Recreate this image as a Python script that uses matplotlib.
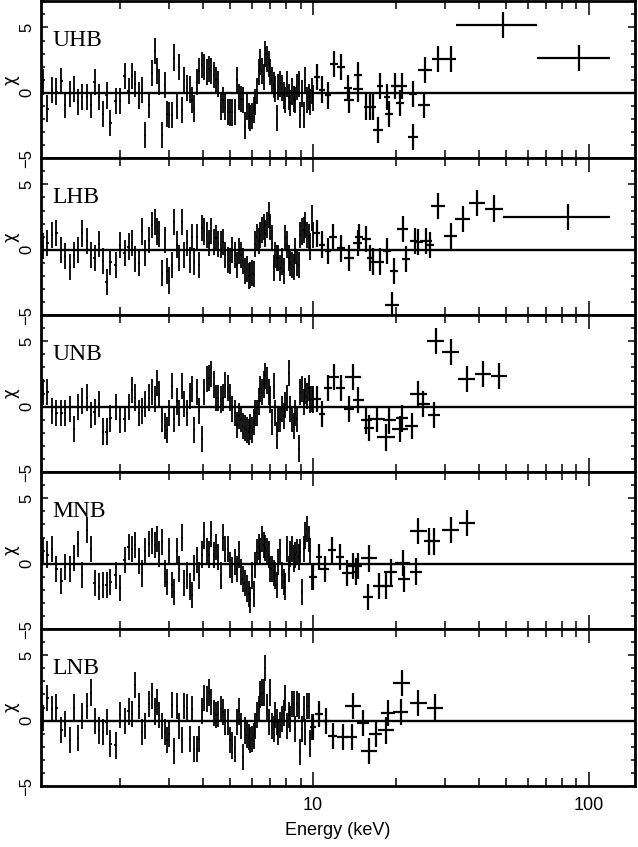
import numpy as np
import matplotlib
matplotlib.use("Agg")
import matplotlib.pyplot as plt
from matplotlib.ticker import FixedLocator, NullFormatter, MultipleLocator, FuncFormatter

plt.rcParams['font.family'] = ['Liberation Sans Narrow', 'Liberation Sans', 'DejaVu Sans']

# ---- data: chi residuals (yerr = 1 by definition) ----
panel_names = ["UHB", "LHB", "UNB", "MNB", "LNB"]

# shared low-energy channel grid (keV)
low_energy = [
    1.045, 1.084, 1.13, 1.17, 1.22, 1.26, 1.31, 1.355, 1.40, 1.45,
    1.51, 1.56, 1.61, 1.67, 1.73, 1.78, 1.84, 1.92, 1.99, 2.07,
    2.14, 2.21, 2.26, 2.33, 2.39, 2.46, 2.53, 2.60, 2.66, 2.72,
    2.77, 2.84, 2.89, 2.95, 3.01, 3.08, 3.13, 3.21, 3.27, 3.34,
    3.41, 3.48, 3.56, 3.63, 3.71, 3.79, 3.86, 3.95, 4.03, 4.11,
    4.19, 4.27, 4.36, 4.44, 4.53, 4.62, 4.71, 4.80, 4.89, 4.99,
    5.09, 5.19, 5.29, 5.38, 5.47, 5.56, 5.65, 5.75, 5.83, 5.91,
    6.00, 6.08, 6.16, 6.25, 6.34, 6.43, 6.52, 6.61, 6.70, 6.79,
    6.89, 6.98, 7.08, 7.18, 7.28, 7.38, 7.48, 7.59, 7.70, 7.81,
    7.92, 8.03, 8.14, 8.26, 8.37, 8.49, 8.61, 8.73, 8.85, 8.97,
    9.10, 9.23, 9.35, 9.48, 9.62, 9.75, 9.89, 10.0,
]

uhb_low = [
    0.8, -1.2, 0.2, 0.1, 0.9, -0.9, -0.1, 0.3, -0.7, -0.3,
    -0.3, -0.9, 0.8, -0.3, -1.6, -0.2, -2.3, -0.6, -0.6, 1.3,
    0.15, 1.3, 0.7, -0.2, 0.2, -3.2, -0.9, 1.5, 3.2, 1.7,
    0.8, -3.2, 0.6, -1.6, -1.7, -1.7, 2.7, -1.0, 2.0, -1.3,
    1.0, 0.4, 0.25, -0.55, -1.2, 0.8, 1.7, 2.1, 2.0, 1.6,
    1.85, 1.7, 1.35, 0.95, 0.7, -1.05, -0.55, -1.05, -1.45, -1.5,
    -1.5, -1.45, 0.95, -0.3, -0.45, -0.55, -2.5, -1.05, -1.8, -1.95,
    -1.8, -1.3, -0.7, 0.15, 1.6, 2.35, 1.7, 1.2, 3.0, 2.6,
    2.2, 1.6, 0.95, 0.6, 0.3, -1.9, 0.45, 0.7, 0.4, -0.2,
    -0.55, 0.7, -0.3, -0.8, 0.1, -0.45, -0.55, 0.45, 0.7, -1.7,
    -0.05, -1.7, 0.95, -0.55, -0.3, -0.7, 0.15, -0.4,
]
lhb_low = [
    0.3, 0.5, 1.1, 1.3, 0.0, -0.5, -1.3, -0.4, 0.0, 1.25,
    0.7, -0.4, -0.6, 0.45, -0.85, -2.45, -0.95, -1.15, 0.35, -0.25,
    0.25, 0.5, -0.7, -1.0, 1.4, -0.25, 0.75, 1.9, 2.15, 1.4,
    1.2, -1.8, 0.75, -1.65, -2.35, -1.15, 2.15, 0.4, -0.6, 2.15,
    -0.4, 0.5, -0.75, 1.0, -0.9, 1.0, -1.15, 1.65, 1.4, 1.15,
    0.5, 1.45, 0.6, 0.9, 0.45, 0.4, 0.6, -0.4, -0.75, -0.85,
    0.0, -0.4, -1.15, -0.1, -0.4, -0.85, -1.65, -1.5, -2.0, -1.9,
    -1.8, -1.85, 0.45, 1.0, 0.7, 1.15, 1.5, 1.75, 1.25, 1.9,
    2.65, 1.75, 0.9, -1.4, -0.4, -0.6, -0.6, -1.4, -0.9, -1.65,
    0.9, 0.4, -0.6, -1.0, -1.15, -1.3, -0.1, -1.0, -1.15, 1.15,
    1.4, 1.5, 1.9, 1.15, 1.0, 0.25, 2.4, 1.15,
]
unb_low = [
    1.1, 1.1, -0.3, -0.45, -0.45, -0.45, -0.2, -1.7, 0.0, 0.45,
    0.7, -0.65, -0.4, 0.2, -1.9, -1.9, -0.9, -0.05, -1.0, -0.95,
    -0.05, 1.3, 0.7, -0.45, -0.3, 0.2, 0.7, 1.15, 0.6, 1.8,
    0.95, -0.95, -1.45, -1.8, -0.45, 1.6, -0.95, 0.4, -0.45, 1.6,
    0.2, -0.45, 0.85, 1.35, -1.8, 1.1, -0.3, -2.45, 1.1, 2.1,
    2.2, 2.5, 1.7, 0.65, 0.65, 0.55, 0.7, 1.65, 1.45, 0.7,
    -0.2, -0.45, -1.4, -0.7, -0.95, -1.45, -1.65, -1.8, -1.95, -1.55,
    -1.75, -1.2, -0.45, -0.45, 0.4, 1.35, 1.1, 1.7, 2.35, 2.0,
    1.1, 0.55, -1.2, 1.6, -0.45, -2.2, -0.95, -0.95, -0.2, -0.7,
    0.1, 0.65, 2.6, -0.2, -0.95, -1.45, -0.45, -0.95, -3.2, 1.1,
    1.35, 0.35, 1.2, 0.85, 1.45, 0.55, 0.6, 0.55,
]
mnb_low = [
    1.0, 0.7, 1.15, -0.4, -1.35, -0.25, -0.4, 0.45, 1.5, -0.85,
    2.55, 1.15, -1.5, -1.75, -1.65, -1.6, -1.4, -0.9, -1.85, 0.25,
    1.25, 1.15, 1.45, 0.2, -0.75, 1.0, 1.5, 1.75, 1.4, 1.9,
    0.75, 1.65, -0.75, -1.4, 1.0, -1.65, -2.15, 1.0, -0.4, 2.0,
    -1.5, -0.9, -1.75, -2.4, -0.35, 0.25, -0.9, 0.7, 2.15, 1.0,
    0.7, 2.3, 0.65, 1.25, 0.5, -0.9, 2.0, 1.15, 1.15, -0.1,
    -0.5, 0.1, -0.4, 0.7, -0.65, -1.15, -1.5, -1.9, -2.3, -2.8,
    -0.9, -2.3, -0.1, 0.9, 1.25, 0.95, 1.9, 1.45, 1.2, 1.0,
    0.7, -0.4, -0.4, -0.7, -0.9, -1.65, 0.1, 0.9, -0.9, -1.4,
    -1.75, 1.15, -0.4, 0.75, 1.15, 0.4, 0.65, 0.9, 0.5, 0.9,
    -2.15, 1.15, 2.15, 2.65, 1.9, 1.0, -1.0, -1.0,
]
lnb_low = [
    0.2, 1.75, 0.9, 1.0, -0.7, -0.25, -1.5, 1.0, -1.35, 0.35,
    1.15, 2.15, 0.0, -0.75, -0.9, -0.1, -1.75, -1.9, 0.4, 0.0,
    0.7, 0.5, 2.7, 1.15, -0.9, -0.4, 1.25, 1.9, 0.7, 1.45,
    0.45, -0.4, -0.9, -1.5, -1.0, 1.2, -2.3, 1.15, -0.4, -1.5,
    1.15, 1.0, -1.4, 0.9, -2.15, -2.2, -1.4, 0.75, 1.7, 1.65,
    2.15, 1.4, 0.6, 0.4, 0.5, 0.9, 0.65, -0.1, -0.1, -1.5,
    -1.9, -2.15, -0.1, 0.7, -0.4, -2.8, -0.75, -1.1, -1.25, -1.5,
    -1.4, -1.15, -0.4, 0.45, 0.9, 2.0, 2.15, 2.15, 4.05, 1.0,
    -0.1, 2.15, -0.4, -0.65, 0.4, -0.1, -0.9, -0.35, 0.1, 0.6,
    1.75, -0.4, 0.4, 0.1, 1.25, 1.25, -0.65, 1.25, 1.15, -2.4,
    -0.65, 0.9, -0.9, 1.15, 1.15, -1.75, -0.5, -0.5,
]

# binned points above 10 keV: centre (keV), half width (keV), residual
uhb_hi_e = [10.3, 10.8, 11.3, 11.9, 12.6, 13.4, 13.5, 14.5, 14.6, 15.6, 16.1, 16.5, 17.2,
            17.5, 18.6, 18.9, 19.8, 20.7, 21.0, 23.0, 23.1, 25.2, 25.5, 28.4, 31.5]
uhb_hi_w = [0.26, 0.27, 0.28, 0.40, 0.42, 0.45, 0.57, 0.49, 0.61, 0.27, 0.27, 0.41, 0.72,
            0.44, 0.47, 0.64, 0.67, 0.70, 0.88, 0.97, 0.79, 1.26, 1.48, 1.53, 1.58]
uhb_hi_r = [1.2, 0.25, -0.2, 2.2, 2.0, 0.4, -0.55, 1.35, 0.3, -1.1, -1.1, -1.1, -2.85,
            0.5, -0.3, -1.6, 0.5, -0.75, 0.5, -3.35, -0.1, -0.95, 1.75, 2.6, 2.6]

lhb_hi_e = [10.3, 10.8, 11.3, 11.8, 12.6, 13.5, 14.5, 14.7, 15.6, 16.1, 16.5, 17.5, 18.5,
            19.3, 19.7, 21.1, 21.7, 23.4, 24.1, 25.7, 26.5, 28.4, 31.5, 34.9, 39.4]
lhb_hi_w = [0.28, 0.27, 0.28, 0.36, 0.42, 0.53, 0.57, 0.49, 0.62, 0.40, 0.41, 0.58, 0.62,
            1.12, 0.66, 1.02, 0.73, 0.90, 0.82, 1.29, 0.89, 1.65, 1.65, 2.27, 2.55]
lhb_hi_r = [1.25, 0.4, -0.1, 1.0, 0.1, -0.6, 0.5, 1.0, 0.85, -0.6, -0.9, -0.9, -0.1,
            -4.2, -1.6, 1.6, -0.7, 0.7, 0.6, 0.7, 0.35, 3.35, 1.05, 2.35, 3.6]

unb_hi_e = [10.3, 10.8, 11.3, 11.9, 12.6, 13.5, 14.0, 14.6, 15.6, 15.9, 17.1, 18.4, 18.9,
            20.7, 21.0, 22.8, 24.1, 25.1, 27.5, 27.9, 31.6, 36.0, 41.4, 47.3]
unb_hi_w = [0.34, 0.27, 0.36, 0.47, 0.49, 0.54, 0.97, 0.65, 0.75, 0.66, 1.07, 1.35, 1.05,
            1.35, 1.05, 1.18, 1.67, 1.33, 1.43, 1.95, 2.2, 2.5, 2.9, 3.3]
unb_hi_r = [0.6, -0.55, 1.45, 2.3, 1.45, -0.2, 2.25, 0.5, -1.05, -1.65, -0.95, -2.35, -1.05,
            -1.7, -0.9, -1.5, 0.95, 0.2, -0.65, 5.0, 4.2, 2.1, 2.5, 2.35]

mnb_hi_e = [10.0, 10.5, 11.0, 11.7, 12.5, 13.3, 14.0, 14.3, 14.5, 15.8, 16.0, 17.4, 18.4,
            19.1, 21.1, 21.4, 23.6, 24.1, 26.3, 27.5, 31.6, 36.2]
mnb_hi_w = [0.31, 0.26, 0.40, 0.42, 0.44, 0.55, 0.58, 0.36, 0.50, 0.70, 1.11, 0.92, 1.07,
            0.99, 1.32, 1.12, 1.24, 1.67, 1.1, 1.4, 2.19, 2.51]
mnb_hi_r = [-1.0, 0.5, -0.4, 1.05, 0.5, -0.7, -0.15, -0.6, -0.15, -2.55, 0.4, -1.7, -1.7,
            -0.65, 0.05, -1.15, -0.6, 2.5, 1.7, 1.7, 2.6, 3.1]

lnb_hi_e = [10.0, 10.5, 11.1, 11.8, 12.8, 13.8, 14.0, 15.2, 16.0, 16.9, 18.4, 18.7, 20.8,
            21.0, 24.1, 27.7]
lnb_hi_w = [0.25, 0.37, 0.28, 0.44, 0.59, 0.67, 0.97, 0.80, 1.11, 0.94, 1.27, 1.04, 1.30,
            1.46, 1.67, 1.93]
lnb_hi_r = [-0.5, 0.5, 0.0, -1.15, -1.25, -1.25, 1.15, -0.2, -2.35, -1.0, -0.75, 0.6, 0.65,
            2.85, 1.35, 1.0]

# very wide high-energy bins: centre, lower edge, upper edge, residual
uhb_wide_e = [48.8, 91.9]
uhb_wide_lo = [33.0, 64.7]
uhb_wide_hi = [64.7, 119.0]
uhb_wide_r = [5.2, 2.65]

lhb_wide_e = [45.3, 84.1]
lhb_wide_lo = [42.0, 48.8]
lhb_wide_hi = [48.8, 119.0]
lhb_wide_r = [3.15, 2.5]

panels = [
    ("UHB", uhb_low, uhb_hi_e, uhb_hi_w, uhb_hi_r, (uhb_wide_e, uhb_wide_lo, uhb_wide_hi, uhb_wide_r)),
    ("LHB", lhb_low, lhb_hi_e, lhb_hi_w, lhb_hi_r, (lhb_wide_e, lhb_wide_lo, lhb_wide_hi, lhb_wide_r)),
    ("UNB", unb_low, unb_hi_e, unb_hi_w, unb_hi_r, None),
    ("MNB", mnb_low, mnb_hi_e, mnb_hi_w, mnb_hi_r, None),
    ("LNB", lnb_low, lnb_hi_e, lnb_hi_w, lnb_hi_r, None),
]

# small horizontal extent of the low-energy channels, from the grid spacing
e = np.array(low_energy)
step = np.gradient(e)
low_xerr = 0.3 * step

fig, axes = plt.subplots(5, 1, figsize=(6.38, 8.47), dpi=100, sharex=True)
fig.subplots_adjust(left=0.0643, right=0.9953, top=0.9985, bottom=0.072, hspace=0)

for ax, (name, low, hi_e, hi_w, hi_r, wide) in zip(axes, panels):
    ax.set_xscale('log')
    ax.axhline(0, color='black', lw=1.7, zorder=1)
    ax.errorbar(low_energy, low, yerr=1, xerr=low_xerr, fmt='none',
                ecolor='black', elinewidth=1.3, zorder=2)
    ax.errorbar(hi_e, hi_r, yerr=1, xerr=hi_w, fmt='none',
                ecolor='black', elinewidth=1.6, zorder=2)
    if wide is not None:
        we, wlo, whi, wr = [np.array(v) for v in wide]
        ax.errorbar(we, wr, yerr=1, xerr=[we - wlo, whi - we], fmt='none',
                    ecolor='black', elinewidth=1.6, zorder=2)

    ax.set_xlim(1.03, 147)
    ax.set_ylim(-5, 7)
    ax.text(0.019, 0.715, name, transform=ax.transAxes, fontsize=17,
            family=['Liberation Serif', 'DejaVu Serif'], va='baseline', ha='left')

    ax.set_yticks([-5, 0, 5])
    ax.set_yticklabels(['\u22125', '0', '5'], rotation=90, va='center')
    ax.yaxis.set_minor_locator(MultipleLocator(1))
    ax.xaxis.set_major_locator(FixedLocator([10, 100]))
    ax.xaxis.set_minor_locator(FixedLocator([2, 3, 4, 5, 6, 7, 8, 9,
                                             20, 30, 40, 50, 60, 70, 80, 90]))
    ax.xaxis.set_major_formatter(FuncFormatter(lambda v, p: f'{v:g}'))
    ax.xaxis.set_minor_formatter(NullFormatter())

    ax.tick_params(which='both', direction='in', top=True, right=True, width=1.1)
    ax.tick_params(axis='x', which='major', length=10, pad=8, labelsize=13)
    ax.tick_params(axis='x', which='minor', length=6)
    ax.tick_params(axis='y', which='major', length=5, pad=5, labelsize=12)
    ax.tick_params(axis='y', which='minor', length=3)
    for s in ax.spines.values():
        s.set_linewidth(2)

    ax.set_ylabel('\u03c7', fontsize=12, family='DejaVu Sans', rotation=90)
    ax.yaxis.set_label_coords(-0.036, 0.5)

axes[-1].set_xlabel('Energy (keV)', fontsize=13, labelpad=6)

fig.savefig('out.png', dpi=100)
